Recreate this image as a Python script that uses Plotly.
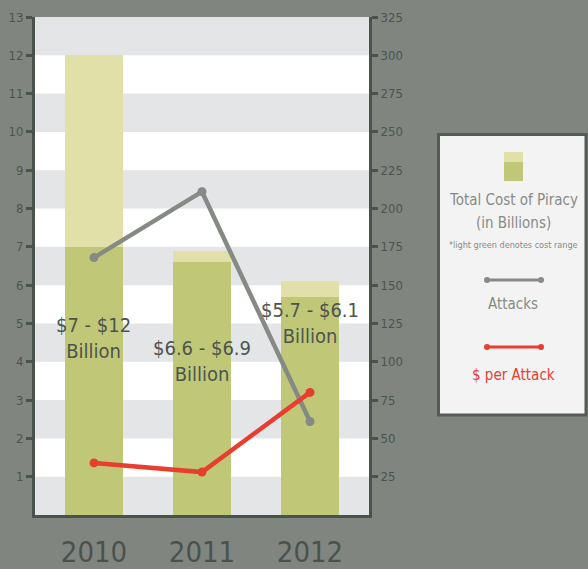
import plotly.graph_objects as go

# ---- data ----
years = ["2010", "2011", "2012"]
cost_low = [7.0, 6.6, 5.7]        # billions, lower bound
cost_high = [12.0, 6.9, 6.1]      # billions, upper bound
attacks = [168, 211, 61]
per_attack = [34, 28, 80]
bar_labels = ["&#36;7 - &#36;12<br>Billion", "&#36;6.6 - &#36;6.9<br>Billion",
              "&#36;5.7 - &#36;6.1<br>Billion"]
label_y = [4.62, 4.02, 5.02]
left_ticks = list(range(1, 14))
right_ticks = list(range(25, 326, 25))

FONT = "DejaVu Sans Condensed, Liberation Sans Narrow, sans-serif"
BG = "#808580"
AXIS = "#4a524c"
TXT = "#4d544f"
DARK_GREEN = "#c0c878"
LIGHT_GREEN = "#e0e0a8"
GREY_LINE = "#858a85"
RED = "#e83e30"
STRIPE = "#e4e5e7"

W, H = 588, 569
L, R, T, B = 35, 369, 17, 515


def px(x):
    return (x - L) / (R - L)


def py(y):
    return (B - y) / (B - T)


fig = go.Figure()

fig.add_trace(go.Bar(x=years, y=cost_low, marker_color=DARK_GREEN, width=0.537,
                     marker_line_width=0, showlegend=False, hoverinfo="skip"))
fig.add_trace(go.Bar(x=years, y=[h - l for h, l in zip(cost_high, cost_low)],
                     base=cost_low, marker_color=LIGHT_GREEN, width=0.537,
                     marker_line_width=0, showlegend=False, hoverinfo="skip"))

fig.add_trace(go.Scatter(x=years, y=attacks, yaxis="y2", mode="lines+markers",
                         line=dict(color=GREY_LINE, width=4.5),
                         marker=dict(color=GREY_LINE, size=9), showlegend=False))
fig.add_trace(go.Scatter(x=years, y=per_attack, yaxis="y2", mode="lines+markers",
                         line=dict(color=RED, width=4.5),
                         marker=dict(color=RED, size=9), showlegend=False))

shapes = []
# alternating stripes
for k in range(0, 13, 2):
    shapes.append(dict(type="rect", xref="paper", yref="y", x0=0, x1=1, y0=k, y1=k + 1,
                       fillcolor=STRIPE, line_width=0, layer="below"))

# legend box
shapes.append(dict(type="rect", xref="paper", yref="paper",
                   x0=px(438.5), x1=px(586), y0=py(134.5), y1=py(415),
                   fillcolor="#f3f3f3", line=dict(color="#545b55", width=3)))
# swatch
shapes.append(dict(type="rect", xref="paper", yref="paper",
                   x0=px(504), x1=px(523), y0=py(162), y1=py(152),
                   fillcolor=LIGHT_GREEN, line_width=0))
shapes.append(dict(type="rect", xref="paper", yref="paper",
                   x0=px(504), x1=px(523), y0=py(181), y1=py(162),
                   fillcolor=DARK_GREEN, line_width=0))
# legend lines
for yy, col in [(280, GREY_LINE), (347, RED)]:
    shapes.append(dict(type="line", xref="paper", yref="paper",
                       x0=px(487), x1=px(541), y0=py(yy), y1=py(yy),
                       line=dict(color=col, width=3)))
    for xx in (487, 541):
        shapes.append(dict(type="circle", xref="paper", yref="paper",
                           x0=px(xx - 3), x1=px(xx + 3), y0=py(yy - 3), y1=py(yy + 3),
                           fillcolor=col, line_width=0))

annotations = []
for i, (lab, ly) in enumerate(zip(bar_labels, label_y)):
    annotations.append(dict(x=i, y=ly, xref="x", yref="y", text=lab, showarrow=False,
                            xanchor="center", yanchor="middle",
                            font=dict(family=FONT, size=20, color=TXT), align="center"))

LEG_TXT = "#868b86"
for text, yy, size, col in [("Total Cost of Piracy", 200, 15, LEG_TXT),
                            ("(in Billions)", 223, 15, LEG_TXT),
                            ("*light green denotes cost range", 245, 9, LEG_TXT),
                            ("Attacks", 304, 15, LEG_TXT),
                            ("&#36; per Attack", 375, 15, RED)]:
    annotations.append(dict(x=px(513), y=py(yy), xref="paper", yref="paper", text=text,
                            showarrow=False, xanchor="center", yanchor="middle",
                            font=dict(family=FONT, size=size, color=col)))

fig.update_layout(
    width=W, height=H,
    margin=dict(l=L, r=W - R, t=T, b=H - B, autoexpand=False),
    paper_bgcolor=BG, plot_bgcolor="#ffffff",
    barmode="overlay", bargap=0,
    shapes=shapes, annotations=annotations,
    xaxis=dict(type="category", range=[-0.546, 2.546], showgrid=False, zeroline=False,
               showline=True, linecolor=AXIS, linewidth=3, ticks="", automargin=False,
               tickfont=dict(family=FONT, size=29, color=AXIS), ticklabelstandoff=9),
    yaxis=dict(range=[0, 13], tickvals=left_ticks, showgrid=False, zeroline=False,
               showline=True, linecolor=AXIS, linewidth=3, ticks="outside", ticklen=6,
               tickwidth=3, tickcolor=AXIS, automargin=False,
               tickfont=dict(family=FONT, size=13, color=TXT)),
    yaxis2=dict(range=[0, 325], tickvals=right_ticks, overlaying="y", side="right",
                showgrid=False, zeroline=False, showline=True, linecolor=AXIS, linewidth=3,
                ticks="outside", ticklen=6, tickwidth=3, tickcolor=AXIS, automargin=False,
                tickfont=dict(family=FONT, size=13, color=TXT)),
    font=dict(family=FONT),
)

fig.write_html("out.html", config={"displayModeBar": False},
               post_script="document.body.style.margin='0';document.body.style.overflow='hidden';")
